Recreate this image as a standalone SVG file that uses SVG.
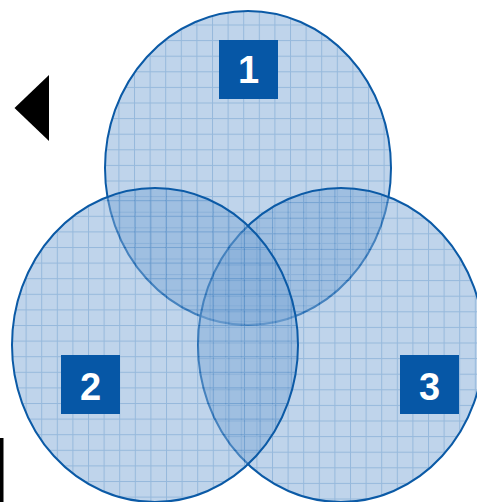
<svg xmlns="http://www.w3.org/2000/svg" width="477" height="502" viewBox="0 0 477 502">
  <style>
    .fill { opacity: 0.5; }
    .edge { fill: none; stroke: #0b5aa6; stroke-width: 2; }
    .box { fill: #0657a6; }
    .num { fill: #ffffff; font-family: "Liberation Sans", Arial, sans-serif; font-weight: bold; font-size: 38px; text-anchor: middle; }
  </style>
  <defs>
    <g id="tile">
      <rect x="0" y="0" width="15.6" height="15.6" fill="#7fa9d6"/>
      <rect x="0" y="0" width="1" height="15.6" fill="#2d73b9"/>
      <rect x="0" y="0" width="15.6" height="1" fill="#2d73b9"/>
    </g>
    <pattern id="grid1" patternUnits="userSpaceOnUse" x="212" y="24.5" width="15.6" height="15.6"><use href="#tile"/></pattern>
    <pattern id="grid2" patternUnits="userSpaceOnUse" x="41.2" y="356.2" width="15.6" height="15.6"><use href="#tile"/></pattern>
    <pattern id="grid3" patternUnits="userSpaceOnUse" x="381.2" y="342.5" width="15.6" height="15.6"><use href="#tile"/></pattern>
  </defs>
  <rect width="477" height="502" fill="#ffffff"/>
  <polygon points="14.5,108 49,75 49,141" fill="#000000"/>
  <rect x="0" y="438" width="3.5" height="64" fill="#000000"/>
  <g id="connectors"/>
  <g id="node1">
    <ellipse class="fill" cx="248" cy="168" rx="143" ry="157" fill="url(#grid1)"/>
    <ellipse class="edge" cx="248" cy="168" rx="143" ry="157"/>
    <rect class="box" x="219" y="40" width="59" height="59"/>
    <text class="num" x="248.5" y="83">1</text>
  </g>
  <g id="node3">
    <ellipse class="fill" cx="341" cy="345" rx="143" ry="157" fill="url(#grid3)"/>
    <ellipse class="edge" cx="341" cy="345" rx="143" ry="157"/>
    <rect class="box" x="400" y="355" width="59" height="59"/>
    <text class="num" x="429.5" y="400">3</text>
  </g>
  <g id="node2">
    <ellipse class="fill" cx="155" cy="345" rx="143" ry="157" fill="url(#grid2)"/>
    <ellipse class="edge" cx="155" cy="345" rx="143" ry="157"/>
    <rect class="box" x="61" y="355" width="59" height="59"/>
    <text class="num" x="90.5" y="400">2</text>
  </g>
</svg>
